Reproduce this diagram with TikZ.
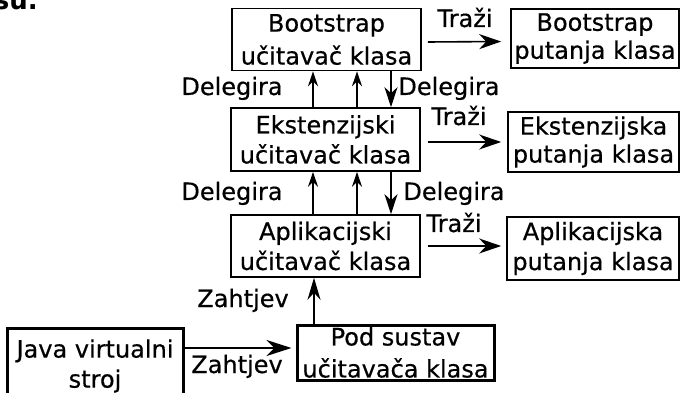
\documentclass[tikz,border=0pt]{standalone}
\usepackage{fontspec}
\setmainfont{DejaVu Sans}[FakeBold=0.5]
\newfontfamily\fragfont{DejaVu Sans Bold}
\usetikzlibrary{arrows.meta}
\begin{document}
\begin{tikzpicture}[x=1pt,y=-1pt,
  box/.style={draw, line width=1.6pt, inner sep=0pt, align=center,
    font=\fontsize{24}{30}\selectfont},
  thickbox/.style={box, line width=3pt},
  lbl/.style={inner sep=0pt, anchor=base, font=\fontsize{24}{30}\selectfont},
  upar/.style={line width=1.5pt, -{Stealth[length=15pt,width=10pt,inset=5pt]}},
  dnar/.style={line width=1.5pt, -{Stealth[length=20pt,width=13pt,inset=6pt]}},
  trar/.style={line width=1.6pt, -{Stealth[length=22pt,width=15pt,inset=7pt]}}]
\useasboundingbox (0,0) rectangle (681,393);

% fragment of preceding text
\node[inner sep=0pt, anchor=base east, font=\fontsize{26}{28}\fragfont] (frag) at (38,10) {isu.};

% loaders
\node[box, minimum width=189pt, minimum height=62pt, font=\fontsize{24}{33}\selectfont] (boot) at (326.5,39.5) {Bootstrap\\učitavač klasa};
\node[box, minimum width=189pt, minimum height=63pt] (ext) at (325.5,139.5) {Ekstenzijski\\učitavač klasa};
\node[box, minimum width=189pt, minimum height=62pt] (app) at (325.5,246) {Aplikacijski\\učitavač klasa};

% paths
\node[box, minimum width=168pt, minimum height=59pt, font=\fontsize{24}{28}\selectfont] (bootpath) at (595,38.5) {Bootstrap\\putanja klasa};
\node[box, minimum width=171pt, minimum height=60pt, font=\fontsize{24}{28}\selectfont] (extpath) at (593.5,142) {Ekstenzijska\\putanja klasa};
\node[box, minimum width=172pt, minimum height=63pt] (apppath) at (593,248.5) {Aplikacijska\\putanja klasa};

% bottom
\node[thickbox, minimum width=176pt, minimum height=76pt, font=\fontsize{24}{30}\selectfont] (jvm) at (95,366) {Java virtualni\\stroj};
\node[thickbox, minimum width=197pt, minimum height=55pt, font=\fontsize{24}{32}\selectfont] (pod) at (395.5,352.5) {Pod sustav\\učitavača klasa};

% Delegira boot <-> ext
\draw[upar] ([xshift=-12.5pt]ext.north) -- ([xshift=-13.5pt]boot.south);
\draw[upar] ([xshift=31.5pt]ext.north) -- ([xshift=30.5pt]boot.south);
\draw[dnar] ([xshift=64.5pt]boot.south) -- ([xshift=65.5pt]ext.north);
\node[lbl] (d1) at (232,95) {Delegira};
\node[lbl] (d2) at (449,95) {Delegira};

% Delegira ext <-> app
\draw[upar] ([xshift=-12.5pt]app.north) -- ([xshift=-12.5pt]ext.south);
\draw[upar] ([xshift=31.5pt]app.north) -- ([xshift=31.5pt]ext.south);
\draw[dnar] ([xshift=65.5pt]ext.south) -- ([xshift=65.5pt]app.north);
\node[lbl] (d3) at (232,200) {Delegira};
\node[lbl] (d4) at (454,200) {Delegira};

% Traži
\draw[trar] ([xshift=6pt,yshift=-2.5pt]boot.east) -- ([xshift=-9pt,yshift=-3pt]bootpath.west);
\node[lbl] (t1) at (465,27) {Traži};
\draw[trar] ([xshift=7pt,yshift=-2.5pt]ext.east) -- ([xshift=-6pt]extpath.west);
\node[lbl] (t2) at (459,125) {Traži};
\draw[trar] ([xshift=7pt]app.east) -- ([xshift=-5pt,yshift=2.5pt]apppath.west);
\node[lbl] (t3) at (454,232) {Traži};

% Zahtjev
\draw[trar, -{Stealth[length=22pt,width=13pt,inset=7pt]}] ([xshift=-81.5pt]pod.north) -- ([xshift=-11.5pt]app.south);
\node[lbl] (z1) at (243,307) {Zahtjev};
\draw[trar, -{Stealth[length=25pt,width=16pt,inset=8pt]}] ([yshift=18pt]jvm.east) -- ([xshift=-4pt,yshift=4.5pt]pod.west);
\node[lbl] (z2) at (237,373) {Zahtjev};
\end{tikzpicture}
\end{document}
